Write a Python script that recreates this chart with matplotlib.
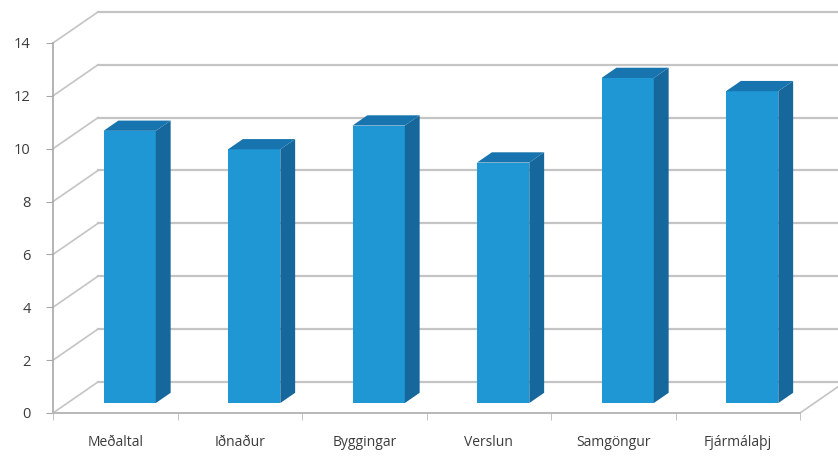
import matplotlib.pyplot as plt
from matplotlib.patches import Polygon

# Gögn
categories = ['Meðaltal', 'Iðnaður', 'Byggingar', 'Verslun', 'Samgöngur', 'Fjármálaþj']
values = [10.3, 9.6, 10.5, 9.1, 12.3, 11.8]
yticks = [0, 2, 4, 6, 8, 10, 12, 14]

# 3D útlit (skáskot)
DX = 45 / 124.5   # dýpt í x (flokkar)
DY = 31 / 26.36   # dýpt í y (gildi)
D0, D1 = 0.32, 0.65
HALF = 0.21

FRONT = '#1f97d4'
SIDE = '#16679c'
TOP = '#1874ae'
GRID = '#c4c4c4'

plt.rcParams['font.family'] = ['Open Sans', 'DejaVu Sans']

fig = plt.figure(figsize=(8.38, 4.59), dpi=100)
ax = fig.add_axes([53 / 838, 46 / 459, 747 / 838, 370 / 459])
ax.set_xlim(0, len(categories))
ax.set_ylim(0, 14)

# Bakveggur og vinstri veggur
for v in yticks:
    ax.plot([DX, len(categories) + DX], [v + DY, v + DY], color=GRID, lw=1.6,
            clip_on=False, zorder=1)
    ax.plot([0, DX], [v, v + DY], color=GRID, lw=1.2, clip_on=False, zorder=1)
# gólf hægra megin
ax.plot([len(categories), len(categories) + DX], [0, DY], color=GRID, lw=1.2,
        clip_on=False, zorder=1)

# Súlur
for i, v in enumerate(values):
    x0 = i + 0.5 - HALF + D0 * DX
    x1 = i + 0.5 + HALF + D0 * DX
    y0 = D0 * DY
    ddx = (D1 - D0) * DX
    ddy = (D1 - D0) * DY
    front = Polygon([(x0, y0), (x1, y0), (x1, v + y0), (x0, v + y0)],
                    closed=True, fc=FRONT, ec='none', zorder=3, clip_on=False)
    side = Polygon([(x1, y0), (x1 + ddx, y0 + ddy), (x1 + ddx, v + y0 + ddy), (x1, v + y0)],
                   closed=True, fc=SIDE, ec='none', zorder=3, clip_on=False)
    top = Polygon([(x0, v + y0), (x1, v + y0), (x1 + ddx, v + y0 + ddy), (x0 + ddx, v + y0 + ddy)],
                  closed=True, fc=TOP, ec='none', zorder=3, clip_on=False)
    ax.add_patch(front)
    ax.add_patch(side)
    ax.add_patch(top)

# Ásar
for s in ['top', 'right']:
    ax.spines[s].set_visible(False)
ax.spines['left'].set_color('#a8a8a8')
ax.spines['bottom'].set_color('#b8b8b8')
ax.spines['left'].set_linewidth(1.2)
ax.spines['bottom'].set_linewidth(1.4)

ax.set_yticks(yticks)
ax.set_yticklabels([str(t) for t in yticks])
ax.tick_params(axis='y', length=5, color='#a8a8a8', pad=11, labelsize=10.5,
               labelcolor='#3c3c3c')

ax.set_xticks([i + 0.5 for i in range(len(categories))])
ax.set_xticklabels(categories)
ax.tick_params(axis='x', length=0, pad=16, labelsize=10, labelcolor='#3c3c3c')
ax.set_xticks(range(len(categories) + 1), minor=True)
ax.tick_params(axis='x', which='minor', length=5, color='#b8b8b8')

fig.savefig('out.png', dpi=100)
